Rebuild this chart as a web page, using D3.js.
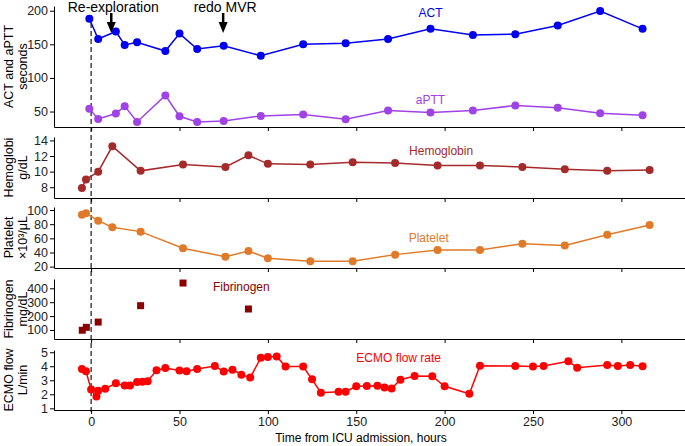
<!DOCTYPE html>
<html>
<head>
    <meta charset="utf-8">
    <title>ECMO course</title>
    <script src="https://d3js.org/d3.v7.min.js"></script>
    <style>
        body { margin: 0; background: #fff; }
        svg { display: block; font-family: "Liberation Sans", Arial, sans-serif; }
        .axis path, .axis line { stroke: #000; }
        .axis text { fill: #222; font-size: 12.5px; }
    </style>
</head>
<body>
    <script>
        // data (hours from ICU admission)
        var actTime = [-1, 4, 14, 19, 26, 42, 50, 60, 75, 96, 120, 144, 168, 192, 216, 240, 264, 288, 312];
        var actVal = [188, 158, 169, 149, 153, 140, 166, 143, 148, 133, 150, 151.5, 158, 173, 164, 165, 178, 199.5, 173];
        var apttVal = [54, 39, 47, 58, 34.5, 74, 43, 34.5, 36, 43.5, 45.5, 38.5, 51.5, 48.5, 51.5, 59, 55.5, 47.5, 44.5];

        var hgbTime = [-5.2, -2.9, 4, 12, 28, 52, 76, 89, 100, 124, 148, 172, 196, 220, 244, 268, 292, 316];
        var hgbVal = [7.9, 9.0, 10.0, 13.25, 10.1, 10.9, 10.6, 12.1, 11.0, 10.9, 11.2, 11.1, 10.8, 10.8, 10.6, 10.3, 10.1, 10.2];
        var pltVal = [93.5, 95.5, 85, 75.7, 69.5, 46, 34, 42, 32, 27.6, 27.6, 37, 43.7, 43.7, 52.3, 50, 65, 79];

        var fibTime = [-5, -2.7, 4, 28, 52, 89];
        var fibVal = [98, 119, 157, 275, 438, 251];

        var ecmoTime = [-5.2, -2.9, 0, 3, 4, 8, 14, 19, 22, 26, 29, 32, 37, 42, 50, 54, 60, 70, 75, 80, 85, 90,
            96, 100, 105, 110, 120, 125, 130, 140, 144, 150, 156, 162, 166, 170, 175, 183, 193, 200, 214,
            220, 240, 250, 256, 270, 275, 292, 298, 305, 312];
        var ecmoVal = [3.8, 3.64, 2.35, 1.85, 2.26, 2.4, 2.78, 2.62, 2.62, 2.88, 2.9, 2.93, 3.71, 3.88, 3.69, 3.64, 3.8, 4.02, 3.62, 3.76, 3.4, 3.19,
            4.6, 4.66, 4.7, 3.98, 3.98, 3.07, 2.11, 2.19, 2.19, 2.57, 2.59, 2.61, 2.48, 2.42, 3.04, 3.31, 3.29, 2.57, 2.04,
            4.04, 4.02, 3.98, 4.02, 4.36, 3.9, 4.09, 4.02, 4.09, 4.0];

        var xTicks = [0, 50, 100, 150, 200, 250, 300];
        var events = [{label: "Re-exploration", t: 11.4}, {label: "redo MVR", t: 74.7}];

        var W = 685, H = 446;
        var svg = d3.select("body").append("svg").attr("width", W).attr("height", H);

        var x = d3.scaleLinear().domain([-21, 336]).range([54, 685]);

        // panel layout: y domain, pixel extent, ticks, axis title lines
        var panels = [
            {dom: [27, 207], top: 6, bot: 127, ticks: [50, 100, 150, 200], title: ["ACT and aPTT", "seconds"]},
            {dom: [6.62, 14.44], top: 137, bot: 198, ticks: [8, 10, 12, 14], title: ["Hemoglobi", "g/dL"]},
            {dom: [18.1, 104.3], top: 207, bot: 268, ticks: [20, 40, 60, 80, 100], title: ["Platelet", "\u00d710\u00b3/\u03bcL"]},
            {dom: [35, 467], top: 279, bot: 339, ticks: [100, 200, 300, 400], title: ["Fibrinogen", "mg/dL"]},
            {dom: [0.88, 5.16], top: 350, bot: 410, ticks: [1, 2, 3, 4, 5], title: ["ECMO flow", "L/min"]}
        ];

        panels.forEach(function(p, i) {
            p.y = d3.scaleLinear().domain(p.dom).range([p.bot, p.top]);

            svg.append("g")
                .attr("class", "axis")
                .attr("transform", "translate(" + x.range()[0] + ",0)")
                .call(d3.axisLeft(p.y).tickValues(p.ticks).tickFormat(d3.format("d"))
                    .tickSize(4).tickSizeOuter(0).tickPadding(2));

            var xa = svg.append("g")
                .attr("class", "axis")
                .attr("transform", "translate(0," + p.bot + ")")
                .call(d3.axisBottom(x).tickValues(xTicks).tickSize(4).tickSizeOuter(0).tickPadding(3));
            if (i < panels.length - 1) xa.selectAll("text").remove();

            var cy = (p.top + p.bot) / 2;
            p.title.forEach(function(s, k) {
                svg.append("text")
                    .attr("transform", "translate(" + (13 + k * 14) + "," + cy + ") rotate(-90)")
                    .attr("text-anchor", "middle")
                    .attr("font-size", 12.5)
                    .attr("fill", "#000")
                    .text(s);
            });
        });

        svg.append("text")
            .attr("x", 361).attr("y", 442)
            .attr("text-anchor", "middle")
            .attr("font-size", 12)
            .text("Time from ICU admission, hours");

        // dashed line at admission
        svg.append("line")
            .attr("x1", x(0)).attr("x2", x(0))
            .attr("y1", 15).attr("y2", 413)
            .attr("stroke", "#000").attr("stroke-width", 1.1)
            .attr("stroke-dasharray", "5,3");

        function series(p, times, vals, color, connect) {
            var pts = times.map(function(t, i) { return [t, vals[i]]; });
            if (connect) {
                svg.append("path")
                    .datum(pts)
                    .attr("fill", "none")
                    .attr("stroke", color)
                    .attr("stroke-width", 1.5)
                    .attr("d", d3.line().x(function(d) { return x(d[0]); }).y(function(d) { return p.y(d[1]); }));
                svg.append("g").selectAll("circle")
                    .data(pts).enter().append("circle")
                    .attr("cx", function(d) { return x(d[0]); })
                    .attr("cy", function(d) { return p.y(d[1]); })
                    .attr("r", 4)
                    .attr("fill", color);
            } else {
                svg.append("g").selectAll("rect")
                    .data(pts).enter().append("rect")
                    .attr("x", function(d) { return x(d[0]) - 3.5; })
                    .attr("y", function(d) { return p.y(d[1]) - 3.5; })
                    .attr("width", 7).attr("height", 7)
                    .attr("fill", color);
            }
        }

        function label(p, t, v, s, color) {
            svg.append("text")
                .attr("x", x(t)).attr("y", p.y(v))
                .attr("dy", "0.35em")
                .attr("text-anchor", "middle")
                .attr("font-size", 12)
                .attr("fill", color)
                .text(s);
        }

        var blue = "#0000ee", purple = "#9f42e6", brown = "#a52a2a", orange = "#e07a28", darkred = "#8b0000", red = "#ff0000";

        series(panels[0], actTime, actVal, blue, true);
        series(panels[0], actTime, apttVal, purple, true);
        series(panels[1], hgbTime, hgbVal, brown, true);
        series(panels[2], hgbTime, pltVal, orange, true);
        series(panels[3], fibTime, fibVal, darkred, false);
        series(panels[4], ecmoTime, ecmoVal, red, true);

        label(panels[0], 192, 197, "ACT", blue);
        label(panels[0], 192, 67, "aPTT", purple);
        label(panels[1], 198, 12.65, "Hemoglobin", brown);
        label(panels[2], 191, 61, "Platelet", orange);
        label(panels[3], 85, 410, "Fibrinogen", darkred);
        label(panels[4], 174, 4.6, "ECMO flow rate", red);

        // event arrows
        events.forEach(function(e) {
            var ax = x(e.t);
            svg.append("text")
                .attr("x", ax + 2).attr("y", 12)
                .attr("text-anchor", "middle")
                .attr("font-size", 14)
                .text(e.label);
            svg.append("line")
                .attr("x1", ax).attr("x2", ax)
                .attr("y1", 13).attr("y2", 24)
                .attr("stroke", "#000").attr("stroke-width", 2.5);
            svg.append("path")
                .attr("d", "M" + (ax - 4.5) + ",22 L" + (ax + 4.5) + ",22 L" + ax + ",33 Z")
                .attr("fill", "#000");
        });
    </script>
</body>
</html>
